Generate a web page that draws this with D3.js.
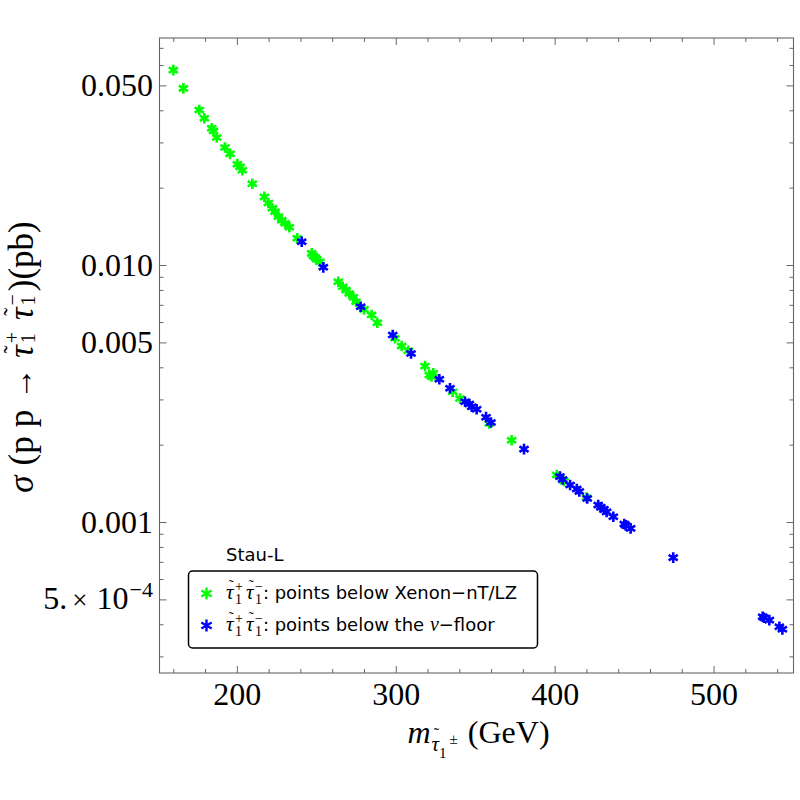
<!DOCTYPE html>
<html><head><meta charset="utf-8">
<script src="https://cdn.jsdelivr.net/npm/d3@7"></script>
<style>body{margin:0;background:#fff}</style>
</head><body>
<svg id="c" width="800" height="800" xmlns="http://www.w3.org/2000/svg"></svg>
<script>
// ---- data ----
const greenMass = [159.7,166.0,176.0,179.2,183.9,185.0,187.0,192.2,195.4,200.0,201.7,203.1,209.4,217.0,219.5,222.0,223.7,225.8,227.9,230.0,232.7,237.7,246.8,247.8,249.0,249.9,252.0,263.5,266.3,268.4,270.4,273.0,274.7,279.7,284.5,288.1,299.2,303.4,307.6,318.1,320.8,322.2,323.3,335.5,340.1,358.5,372.6,401.0,405.6,419.7];
const greenSigma = [0.0576,0.0489,0.0403,0.0374,0.0342,0.0334,0.0315,0.0288,0.0272,0.0248,0.0242,0.0235,0.0208,0.0185,0.0175,0.0167,0.0162,0.0155,0.0150,0.0146,0.0141,0.01276,0.01115,0.01089,0.01075,0.01057,0.01035,0.00865,0.00827,0.00803,0.00779,0.00752,0.00723,0.00675,0.00642,0.00599,0.00521,0.00486,0.00466,0.00406,0.00375,0.00370,0.00381,0.00323,0.00304,0.00243,0.00209,0.00153,0.00145,0.00125];
const blueMass = [240.5,254.1,277.6,297.8,309.3,327.1,333.8,343.3,346.0,347.5,350.6,356.5,359.6,380.4,403.0,404.7,409.4,413.6,415.2,420.2,427.1,428.7,430.7,432.4,436.6,443.5,444.4,447.5,474.3,530.6,531.4,534.8,541.1,543.0];
const blueSigma = [0.01238,0.00984,0.00691,0.00537,0.00455,0.00361,0.00333,0.00295,0.00289,0.00282,0.00276,0.00257,0.00245,0.00193,0.00151,0.00147,0.00140,0.00135,0.00132,0.00124,0.00117,0.001146,0.001125,0.00110,0.001053,0.000987,0.000975,0.000949,0.00073,0.00043,0.000426,0.000417,0.000393,0.000384];
const xMajorTicks = [200,300,400,500];
const xMinorTicks = [160,180,220,240,260,280,320,340,360,380,420,440,460,480,520,540];
const yMajorTicks = [0.0005,0.001,0.005,0.01,0.05];
const yTickLabels = ["5.×10^−4","0.001","0.005","0.010","0.050"];
const yMinorTicks = [0.0003,0.0004,0.0006,0.0007,0.0008,0.0009,0.002,0.003,0.004,0.006,0.007,0.008,0.009,0.02,0.03,0.04,0.06,0.07];
const legendTitle = "Stau-L";
const legendTexts = [": points below Xenon−nT/LZ", ": points below the ", "−floor"];
const seriesColors = ["#00ff00","#0000ff"];

// ---- layout ----
const L = 159.5, R = 793.5, T = 38, B = 673;
const x = d3.scaleLinear().domain([151, 550]).range([L, R]);
const y = d3.scaleLog().domain([2.597e-4, 0.0768]).range([B, T]);
const svg = d3.select("#c");
const frameCol = "#666";
const SERIF = "'Liberation Serif', 'Times New Roman', serif";
const SANS = "'DejaVu Sans', sans-serif";

function starPath(r) {
  const c = r * Math.cos(Math.PI / 6), s = r * Math.sin(Math.PI / 6);
  return `M0,${-r}L0,${r}M${c},${-s}L${-c},${s}M${c},${s}L${-c},${-s}`;
}

// rich text: one <text> element, pieces as absolutely positioned tspans
function measure(it) {
  const t = svg.append("text").attr("font-family", it.fam || SERIF).attr("font-size", it.size)
    .attr("font-style", it.it ? "italic" : "normal").style("white-space", "pre").text(it.t);
  const w = t.node().getComputedTextLength();
  t.remove();
  return w;
}
function rich(parent, items) {
  const placed = [];
  let cx = 0, lastX = 0, lastW = 0;
  for (const it of items) {
    if (it.stack) it.stack.forEach(s => s._w = measure(s));
    else if (it.t !== undefined) it._w = measure(it);
  }
  for (const it of items) {
    if (it.gap !== undefined) { cx += it.gap; continue; }
    if (it.stack) {
      let w = 0;
      for (const s of it.stack) { placed.push({ ...s, px: cx + (it.dx || 0) }); w = Math.max(w, s._w); }
      cx += w + (it.dx || 0);
    } else if (it.over) {
      placed.push({ ...it, px: lastX + lastW / 2 + (it.dx || 0) - it._w / 2 });
    } else {
      lastX = cx + (it.dx || 0); lastW = it._w;
      placed.push({ ...it, px: lastX });
      cx = lastX + it._w;
    }
  }
  const t = parent.append("text").attr("fill", "#000").style("white-space", "pre");
  placed.forEach(p => {
    t.append("tspan").attr("x", p.px).attr("y", p.sh || 0)
      .attr("font-family", p.fam || SERIF).attr("font-size", p.size)
      .attr("font-style", p.it ? "italic" : "normal").text(p.t);
  });
  return { t, width: cx };
}

// ---- frame and ticks ----
svg.append("rect").attr("x", L).attr("y", T).attr("width", R - L).attr("height", B - T)
  .attr("fill", "none").attr("stroke", frameCol).attr("stroke-width", 1.1);
const tk = svg.append("g").attr("stroke", frameCol).attr("stroke-width", 1);
const MJ = 7, MN = 4;
xMajorTicks.forEach(v => {
  tk.append("line").attr("x1", x(v)).attr("x2", x(v)).attr("y1", B).attr("y2", B - MJ);
  tk.append("line").attr("x1", x(v)).attr("x2", x(v)).attr("y1", T).attr("y2", T + MJ);
});
xMinorTicks.forEach(v => {
  tk.append("line").attr("x1", x(v)).attr("x2", x(v)).attr("y1", B).attr("y2", B - MN);
  tk.append("line").attr("x1", x(v)).attr("x2", x(v)).attr("y1", T).attr("y2", T + MN);
});
yMajorTicks.forEach(v => {
  tk.append("line").attr("y1", y(v)).attr("y2", y(v)).attr("x1", L).attr("x2", L + MJ);
  tk.append("line").attr("y1", y(v)).attr("y2", y(v)).attr("x1", R).attr("x2", R - MJ);
});
yMinorTicks.forEach(v => {
  tk.append("line").attr("y1", y(v)).attr("y2", y(v)).attr("x1", L).attr("x2", L + MN);
  tk.append("line").attr("y1", y(v)).attr("y2", y(v)).attr("x1", R).attr("x2", R - MN);
});

// tick labels
const FS = 32;
xMajorTicks.forEach(v => {
  svg.append("text").attr("x", x(v)).attr("y", B + 32).attr("text-anchor", "middle")
    .attr("font-family", SERIF).attr("font-size", FS).text(String(v));
});
yMajorTicks.forEach((v, i) => {
  const lab = yTickLabels[i];
  if (lab.includes("^")) {
    const [base, ex] = lab.split("^");
    const m = base.match(/^(.*?)×(.*)$/);
    const g = svg.append("g");
    const r = rich(g, [
      { t: m[1], size: FS }, { gap: 5 }, { t: "×", size: 27 }, { gap: 9 }, { t: m[2], size: FS },
      { gap: 1 }, { t: ex, size: 22, sh: -12 }
    ]);
    g.attr("transform", `translate(${153 - r.width},${y(v) + 9})`);
  } else {
    svg.append("text").attr("x", 153).attr("y", y(v) + 10).attr("text-anchor", "end")
      .attr("font-family", SERIF).attr("font-size", FS).text(lab);
  }
});

// ---- axis titles ----
{
  const g = svg.append("g");
  const r = rich(g, [
    { t: "m", it: true, size: FS },
    { t: "τ", it: true, size: 21, sh: 8, dx: 1 },
    { t: "˜", size: 16, sh: -4, over: true, dx: 1 },
    { t: "1", size: 15, sh: 15 },
    { gap: 3 },
    { t: "±", size: 15, sh: 1 },
    { gap: 10 },
    { t: "(GeV)", size: FS }
  ]);
  g.attr("transform", `translate(${(L + R) / 2 + 2 - r.width / 2},${743})`);
}
{
  const YS = 35;
  const yl = svg.append("g");
  const g = yl.append("g");
  const r = rich(g, [
    { t: "σ", it: true, size: YS }, { gap: 10 }, { t: "(p", size: YS }, { gap: 9 },
    { t: "p", size: YS }, { gap: 10 }, { t: "→", size: 32, sh: -1 }, { gap: 10 },
    { t: "τ", it: true, size: YS }, { t: "˜", size: 24, sh: -13, over: true, dx: 2 },
    { stack: [{ t: "+", size: 20, sh: -14 }, { t: "1", size: 20, sh: 2 }], dx: 2 },
    { gap: 12 },
    { t: "τ", it: true, size: YS }, { t: "˜", size: 24, sh: -13, over: true, dx: 2 },
    { stack: [{ t: "−", size: 20, sh: -14 }, { t: "1", size: 20, sh: 2 }], dx: 2 },
    { gap: 3 },
    { t: ")(pb)", size: YS }
  ]);
  yl.attr("transform", `translate(33,${357}) rotate(-90)`);
  g.attr("transform", `translate(${-r.width / 2},0)`);
}

// ---- points ----
const star = starPath(5.3);
const series = [
  { m: greenMass, s: greenSigma, c: seriesColors[0] },
  { m: blueMass, s: blueSigma, c: seriesColors[1] }
];
series.forEach(se => {
  svg.append("g").selectAll("path").data(se.m.map((m, i) => [m, se.s[i]])).join("path")
    .attr("d", star).attr("transform", d => `translate(${x(d[0])},${y(d[1])})`)
    .attr("fill", "none").attr("stroke", se.c).attr("stroke-width", 2.6);
});

// ---- legend ----
svg.append("text").attr("x", 226).attr("y", 561).attr("font-family", SANS).attr("font-size", 18).text(legendTitle);
svg.append("rect").attr("x", 188.5).attr("y", 571).attr("width", 349).attr("height", 77).attr("rx", 4)
  .attr("fill", "#fff").attr("stroke", "#000").attr("stroke-width", 1.5);
const rows = [598.5, 630.5];
rows.forEach((ry, i) => {
  svg.append("path").attr("d", starPath(6)).attr("transform", `translate(206.5,${ry - 5})`)
    .attr("fill", "none").attr("stroke", seriesColors[i]).attr("stroke-width", 2.4);
  const items = [
    { t: "τ", it: true, size: 21 }, { t: "˜", size: 15, sh: -9, over: true, dx: 1.5 },
    { stack: [{ t: "+", size: 14, sh: -8 }, { t: "1", size: 14, sh: 5 }], dx: 1.5 },
    { gap: 3 },
    { t: "τ", it: true, size: 21 }, { t: "˜", size: 15, sh: -9, over: true, dx: 1.5 },
    { stack: [{ t: "−", size: 14, sh: -8 }, { t: "1", size: 14, sh: 5 }], dx: 1.5 }
  ];
  if (i === 0) items.push({ t: legendTexts[0], size: 18, fam: SANS });
  else {
    items.push({ t: legendTexts[1], size: 18, fam: SANS });
    items.push({ t: "ν", it: true, size: 20 });
    items.push({ t: legendTexts[2], size: 18, fam: SANS });
  }
  const g = svg.append("g").attr("transform", `translate(226,${ry})`);
  rich(g, items);
});
</script>
</body></html>
